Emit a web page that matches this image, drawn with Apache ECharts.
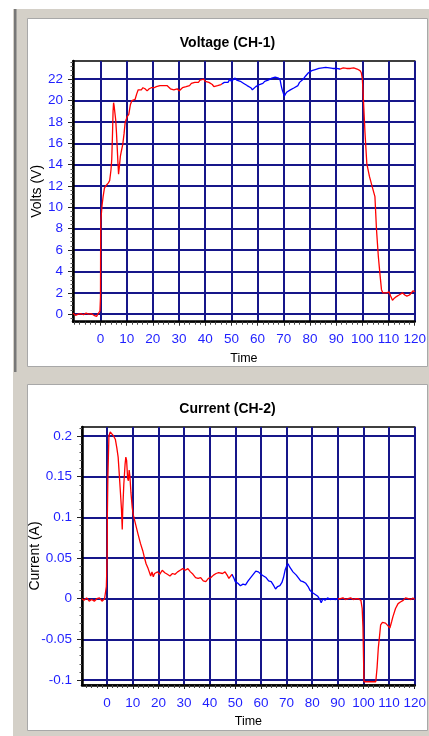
<!DOCTYPE html>
<html>
<head>
<meta charset="utf-8">
<script src="https://cdn.jsdelivr.net/npm/echarts@6/dist/echarts.min.js"></script>
<style>
  html, body { margin: 0; padding: 0; background: #ffffff; }
  #c { width: 429px; height: 736px; }
</style>
</head>
<body>
<div id="c"></div>
<script>
// ---- Voltage channel (CH-1) ----
const voltTime = [
  -10.5, -10, -9.5, -9, -8.5, -8, -7.5, -7, -6.5, -6, -5.5, -5, -4.5, -4, -3.5, -3, -2.5, -2, -1.5, -1, -0.5, -0.2,
  0, 0.05, 0.1, 0.3, 0.6, 1.0, 1.5, 2.0, 2.5, 3.0, 3.5, 4.0, 4.3, 4.6, 4.8, 5.0, 5.2, 5.5, 5.8, 6.1, 6.4, 6.7, 6.9,
  7.2, 7.6, 8.0, 8.5, 9.0, 9.4, 9.8, 10.2, 10.8, 11.4, 12.0, 12.6, 13.2, 13.8, 14.4, 15.0, 15.6, 16.2, 17.0, 17.8,
  18.6, 19.4, 20.0, 20.5, 21.3, 22.0, 22.7, 23.4, 24.0, 24.7, 25.4, 26.0, 26.7, 27.4, 28.0, 28.7, 29.3, 30.0, 30.6,
  31.3, 32.0, 32.7, 33.4, 34.0, 34.7, 35.4, 36.0, 36.7, 37.4, 38.0, 38.7, 39.4, 40.0, 40.7, 41.4, 42.0, 42.7, 43.3,
  44.0, 44.7, 45.4, 46.0, 46.6, 47.3, 48.0, 48.7, 49.4, 50.0, 50.7, 51.4, 52.0, 52.7, 53.4, 54.0, 54.7, 55.4, 56.0,
  56.7, 57.4, 58.0, 58.6, 59.3, 60.0, 60.7, 61.4, 62.0, 62.7, 63.4, 64.0, 64.7, 65.4, 66.0, 66.7, 67.4, 68.0, 68.6,
  69.0, 69.4, 69.8, 70.2, 70.6, 71.2, 71.8, 72.5, 73.2, 74.0, 74.7, 75.4, 76.0, 76.7, 77.4, 78.0, 78.7, 79.4, 80.0,
  80.7, 81.4, 82.0, 82.7, 83.4, 84.0, 84.7, 85.4, 86.0, 86.7, 87.4, 88.0, 88.7, 89.4, 90.0, 90.7, 91.4, 92.0, 92.7,
  93.4, 94.0, 94.7, 95.4, 96.0, 96.7, 97.4, 98.0, 98.6, 99.1, 99.6, 100.0, 100.3, 100.7, 101.0, 101.7, 102.7, 103.8,
  104.8, 105.4, 106.1, 106.7, 107.3, 107.8, 108.5, 109.3, 110.2, 110.8, 111.5, 112.2, 113.0, 114.0, 115.3, 116.2,
  117.0, 118.0, 118.7, 119.4, 120.0
];
const voltValue = [
  0.1, 0.0, -0.1, -0.1, 0.0, -0.1, 0.05, 0.1, -0.05, 0.0, 0.1, -0.05, 0.0, -0.1, 0.05, 0.0, -0.1, -0.05, -0.2, 0.0, 0.1, 0.3,
  1.6, 6.5, 8.7, 8.7, 10.2, 11.0, 11.8, 12.0, 12.1, 12.3, 12.5, 13.5, 14.5, 17.0, 19.0, 19.8, 19.5, 19.4, 18.2, 17.0, 15.5, 14.0, 13.1,
  13.8, 14.8, 15.3, 15.9, 16.9, 17.9, 18.2, 18.5, 18.7, 19.6, 20.0, 20.1, 20.1, 20.6, 21.0, 21.1, 21.0, 21.2, 21.1, 20.9,
  21.1, 21.2, 21.1, 21.2, 21.3, 21.2, 21.4, 21.3, 21.4, 21.3, 21.4, 21.3, 21.1, 21.2, 21.0, 20.9, 21.1, 20.9, 21.0,
  21.2, 21.1, 21.3, 21.4, 21.4, 21.6, 21.5, 21.7, 21.8, 21.7, 21.9, 21.9, 22.0, 21.8, 21.9, 21.7, 21.7, 21.5, 21.3,
  21.3, 21.4, 21.3, 21.5, 21.5, 21.7, 21.8, 21.7, 22.0, 21.8, 21.9, 22.1, 21.9, 22.0, 21.8, 21.8, 21.6, 21.6, 21.4,
  21.3, 21.2, 21.0, 21.1, 21.3, 21.3, 21.5, 21.6, 21.6, 21.8, 21.9, 21.9, 22.0, 22.1, 22.0, 22.2, 22.1, 22.1, 21.9,
  21.4, 21.0, 20.7, 20.4, 20.6, 20.8, 20.8, 21.0, 21.1, 21.2, 21.3, 21.4, 21.7, 21.8, 22.0, 22.2, 22.3, 22.6, 22.7,
  22.8, 22.8, 22.9, 23.0, 23.0, 22.95, 23.05, 23.0, 23.1, 23.0, 23.05, 23.1, 23.0, 23.05, 23.0, 23.0, 22.95, 23.0, 23.05,
  22.95, 23.0, 23.05, 23.0, 23.1, 23.05, 23.1, 22.95, 23.0, 22.8, 22.6, 22.0, 20.6, 20.5, 17.0, 14.1, 12.9, 11.9,
  11.0, 7.9, 5.4, 3.8, 2.3, 2.0, 1.9, 2.0, 2.1, 1.7, 1.3, 1.5, 1.65, 1.8, 2.0, 1.8,
  1.7, 1.8, 1.8, 2.2, 2.1
];
const voltWindow = [46.4, 91.6];          // highlighted time window
const voltTicks = [0, 2, 4, 6, 8, 10, 12, 14, 16, 18, 20, 22];
const voltRange = [-0.7, 23.7];

// ---- Current channel (CH-2) ----
const currTime = [
  -9.8, -9, -8, -7, -6, -5, -4, -3, -2, -1, -0.4, -0.3, -0.05,
  0, 0.1, 0.3, 0.7, 1.2, 1.8, 2.5, 3.2, 3.8, 4.3, 4.8, 5.3, 5.6, 5.9, 6.1, 6.5, 7.0, 7.3, 7.6, 8.0, 8.3, 8.6, 8.9,
  9.3, 9.8, 10.2, 11, 12, 13, 13.9, 14.6, 15.2, 16, 16.5, 17, 17.5, 18, 18.5, 19, 19.7, 20.5, 21.5, 22.5, 23.5,
  24.5, 25.5, 26.5, 27.5, 28.5, 29.5, 30.5, 31.5, 32.5, 33.5, 34.5, 35.5, 36.5, 37.5, 38.5, 39.5, 40.5, 41.5, 42.5,
  43.5, 44.2, 45, 46, 47, 47.5, 48.7, 49.5, 50, 51, 52, 53, 54, 55, 56, 57, 58, 59, 60, 61, 62, 63, 64, 65, 65.7,
  66.5, 67.4, 68.2, 68.8, 69.5, 70, 70.6, 71.2, 71.9, 72.5, 73, 73.8, 74.5, 75.5, 76.4, 77.5, 78.4, 79.2, 80.3, 81,
  82.2, 83, 83.5, 84.2, 85, 86, 87, 88, 89, 90, 91, 92, 93, 94, 95, 96, 97, 98, 99, 99.5, 99.8, 100.1, 100.2,
  101, 102, 103, 104, 104.8, 105.3, 105.8, 106.3, 106.7, 107.4, 108, 108.6, 109.5, 110.3, 111, 111.5, 112.5, 113.5,
  114.4, 115.5, 116.4, 117.5, 118.5, 119.3, 120
];
const currValue = [
  0.000, -0.002, 0.001, -0.003, -0.001, -0.003, 0.000, 0.001, -0.003, 0.000, 0.000, 0.015, 0.015,
  0.05, 0.105, 0.15, 0.2, 0.205, 0.204, 0.2, 0.196, 0.185, 0.174, 0.15, 0.125, 0.11, 0.085, 0.11, 0.14, 0.165, 0.174, 0.17, 0.148, 0.145, 0.158, 0.15,
  0.13, 0.112, 0.103, 0.093, 0.08, 0.068, 0.059, 0.05, 0.043, 0.037, 0.035, 0.028, 0.033, 0.027, 0.031, 0.029, 0.033, 0.03, 0.035, 0.032, 0.03,
  0.028, 0.031, 0.03, 0.033, 0.035, 0.037, 0.035, 0.037, 0.033, 0.03, 0.026, 0.025, 0.026, 0.022, 0.021, 0.025, 0.026, 0.029, 0.031,
  0.032, 0.034, 0.031, 0.033, 0.028, 0.025, 0.030, 0.025, 0.021, 0.019, 0.016, 0.018, 0.017, 0.022, 0.026, 0.03, 0.034, 0.033, 0.030, 0.028, 0.026, 0.022, 0.021, 0.016, 0.012,
  0.015, 0.016, 0.02, 0.026, 0.036, 0.04, 0.043, 0.039, 0.037, 0.033, 0.032, 0.029, 0.027, 0.022, 0.021, 0.019, 0.015, 0.01, 0.007, 0.005,
  0.003, -0.001, -0.005, 0.000, -0.002, 0.001, -0.001, 0.000, -0.001, 0.000, 0.000, 0.001, -0.001, 0.000, 0.001, -0.001, 0.000, 0.000, -0.002, -0.012, -0.035, -0.035, -0.102,
  -0.102, -0.102, -0.102, -0.102, -0.102, -0.085, -0.06, -0.045, -0.032, -0.029, -0.031, -0.030, -0.033, -0.036, -0.028, -0.022, -0.012, -0.006,
  -0.004, -0.002, 0.001, 0.0, -0.001, 0.001, -0.001
];
const currWindow = [48.7, 90];
const currTicks = [-0.1, -0.05, 0, 0.05, 0.1, 0.15, 0.2];
const currTickText = ['-0.1', '-0.05', '0', '0.05', '0.1', '0.15', '0.2'];
const currRange = [-0.106, 0.211];

// ---- shared time axis ----
const timeTicks = [0, 10, 20, 30, 40, 50, 60, 70, 80, 90, 100, 110, 120];
const timeRangeV = [-10.5, 120];
const timeRangeC = [-9.8, 120];

// minor tick positions between the labelled ticks
function minorBetween(majors, lo, hi, step) {
  const out = [];
  const n = Math.round((hi - lo) / step);
  for (let i = 0; i <= n; i++) {
    const v = +(lo + i * step).toFixed(6);
    if (!majors.some(m => Math.abs(m - v) < step / 10)) out.push(v);
  }
  return out;
}
const timeMinor = minorBetween(timeTicks, -10, 120, 2);
const voltMinor = minorBetween(voltTicks, -0.4, 23.6, 0.4);
const currMinor = minorBetween(currTicks, -0.1, 0.21, 0.01);

const FONT = 'Liberation Sans, Arial, sans-serif';
const LABEL_BLUE = '#1f1fff';
const GRID_NAVY = '#16168a';

function pairs(t, v) { return t.map((x, i) => [x, v[i]]); }

function xAxes(gridIndex, range) {
  return [{
    gridIndex, type: 'value', min: range[0], max: range[1], position: 'bottom',
    name: 'Time', nameLocation: 'middle', nameGap: 30, nameMoveOverlap: false,
    nameTextStyle: { color: '#000', fontFamily: FONT, fontSize: 12.5 },
    axisLine: { show: true, onZero: false, lineStyle: { color: '#000', width: 2.5 } },
    axisTick: { show: true, customValues: timeTicks, length: 4, lineStyle: { color: '#222', width: 1 } },
    axisLabel: { customValues: timeTicks, color: LABEL_BLUE, fontFamily: FONT, fontSize: 13.5, margin: 11 },
    splitLine: { show: true, lineStyle: { color: GRID_NAVY, width: 2 } }
  }, {
    gridIndex, type: 'value', min: range[0], max: range[1], position: 'bottom',
    axisLine: { show: false, onZero: false },
    axisTick: { show: true, customValues: timeMinor, length: 3, lineStyle: { color: '#444', width: 1 } },
    axisLabel: { show: false },
    splitLine: { show: false }
  }];
}

function yAxes(gridIndex, range, ticks, minor, name, gap, fmt) {
  return [{
    gridIndex, type: 'value', min: range[0], max: range[1], position: 'left',
    name, nameLocation: 'middle', nameGap: gap, nameRotate: 90, nameMoveOverlap: false,
    nameTextStyle: { color: '#000', fontFamily: FONT, fontSize: 14 },
    axisLine: { show: true, onZero: false, lineStyle: { color: '#000', width: 2.5 } },
    axisTick: { show: true, customValues: ticks, length: 5, lineStyle: { color: '#222', width: 1 } },
    axisLabel: { customValues: ticks, color: LABEL_BLUE, fontFamily: FONT, fontSize: 13.5, margin: 10, formatter: fmt },
    splitLine: { show: true, lineStyle: { color: GRID_NAVY, width: 2 } }
  }, {
    gridIndex, type: 'value', min: range[0], max: range[1], position: 'left',
    axisLine: { show: false, onZero: false },
    axisTick: { show: true, customValues: minor, length: 2.5, lineStyle: { color: '#555', width: 1 } },
    axisLabel: { show: false },
    splitLine: { show: false }
  }];
}

const chart = echarts.init(document.getElementById('c'), null, { renderer: 'canvas', width: 429, height: 736 });

chart.setOption({
  animation: false,
  backgroundColor: '#ffffff',
  graphic: [
    { type: 'rect', z: -10, silent: true, shape: { x: 13, y: 9, width: 416, height: 727 }, style: { fill: '#d4d0c8' } },
    { type: 'rect', z: -9, silent: true, shape: { x: 14, y: 9, width: 2.5, height: 363 }, style: { fill: '#777777' } },
    { type: 'rect', z: -9, silent: true, shape: { x: 27.5, y: 18.5, width: 400, height: 348 }, style: { fill: '#ffffff', stroke: '#a8a8a8', lineWidth: 1 } },
    { type: 'rect', z: -9, silent: true, shape: { x: 27.5, y: 384.5, width: 400, height: 346 }, style: { fill: '#ffffff', stroke: '#a8a8a8', lineWidth: 1 } }
  ],
  title: [
    { text: 'Voltage (CH-1)', left: 227.5, top: 36, textAlign: 'center', padding: 0,
      textStyle: { fontFamily: FONT, fontSize: 14, fontWeight: 'bold', color: '#000' } },
    { text: 'Current (CH-2)', left: 227.5, top: 402, textAlign: 'center', padding: 0,
      textStyle: { fontFamily: FONT, fontSize: 14, fontWeight: 'bold', color: '#000' } }
  ],
  grid: [
    { left: 73, top: 61, width: 346, height: 260.7, show: true, backgroundColor: '#ffffff', borderColor: '#000', borderWidth: 1.5 },
    { left: 82, top: 427, width: 336, height: 258, show: true, backgroundColor: '#ffffff', borderColor: '#000', borderWidth: 1.5 }
  ],
  xAxis: [...xAxes(0, timeRangeV), ...xAxes(1, timeRangeC)],
  yAxis: [
    ...yAxes(0, voltRange, voltTicks, voltMinor, 'Volts (V)', 29, v => String(v)),
    ...yAxes(1, currRange, currTicks, currMinor, 'Current (A)', 39.5, v => {
      const i = currTicks.findIndex(t => Math.abs(t - v) < 1e-9);
      return i >= 0 ? currTickText[i] : '';
    })
  ],
  visualMap: [
    { show: false, type: 'piecewise', seriesIndex: 0, dimension: 0,
      pieces: [{ gte: voltWindow[0], lte: voltWindow[1], color: '#0000ff' }],
      outOfRange: { color: '#ff0000' } },
    { show: false, type: 'piecewise', seriesIndex: 1, dimension: 0,
      pieces: [{ gte: currWindow[0], lte: currWindow[1], color: '#0000ff' }],
      outOfRange: { color: '#ff0000' } }
  ],
  series: [
    { name: 'Voltage', type: 'line', xAxisIndex: 0, yAxisIndex: 0, data: pairs(voltTime, voltValue),
      showSymbol: false, lineStyle: { width: 1.3 }, z: 5 },
    { name: 'Current', type: 'line', xAxisIndex: 2, yAxisIndex: 2, data: pairs(currTime, currValue),
      showSymbol: false, lineStyle: { width: 1.3 }, z: 5 }
  ]
});
</script>
</body>
</html>
